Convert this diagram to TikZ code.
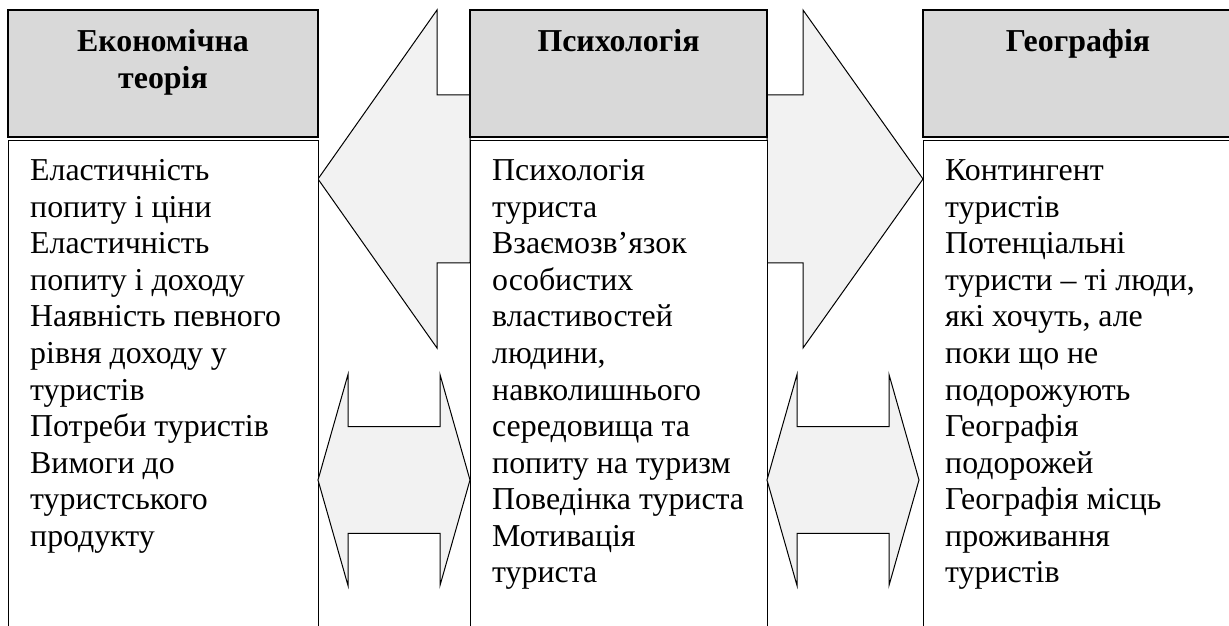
\documentclass[tikz,border=0pt]{standalone}
\usepackage{fontspec}
\setmainfont{Liberation Serif}
\definecolor{hdrgray}{HTML}{D9D9D9}
\definecolor{arrowgray}{HTML}{F2F2F2}
\begin{document}
\begin{tikzpicture}[x=1bp,y=-1bp,
  hdr/.style={draw=black, line width=1.4bp, fill=hdrgray},
  bodybox/.style={draw=black, line width=1bp, fill=white},
  blockarrow/.style={draw=black, line width=1bp, fill=arrowgray, line join=miter},
  txt/.style={inner sep=0pt, font=\fontsize{32}{36.7}\selectfont},
  htxt/.style={inner sep=0pt, font=\fontsize{32}{36.7}\selectfont\bfseries}]
\useasboundingbox (0,0) rectangle (1229,626);
\clip (0,0) rectangle (1229,626);

% top block arrows
\draw[blockarrow] (318,179) -- (437,10) -- (437,95) -- (470,95) -- (470,263) -- (437,263) -- (437,348) -- cycle;
\draw[blockarrow] (923,179) -- (803,10) -- (803,95) -- (767,95) -- (767,263) -- (803,263) -- (803,348) -- cycle;

% header boxes
\draw[hdr] (8,10) rectangle (318,137);
\draw[hdr] (470,10) rectangle (767,137);
\draw[hdr] (923,10) rectangle (1233,137);

% body boxes
\draw[bodybox] (8,141) rectangle (318,660);
\draw[bodybox] (470,141) rectangle (767,660);
\draw[bodybox] (923,141) rectangle (1233,660);

% double arrows
\draw[blockarrow] (318,480) -- (348,374.5) -- (348,426.7) -- (440,426.7) -- (440,374.5) -- (470,480) -- (440,585.5) -- (440,533.3) -- (348,533.3) -- (348,585.5) -- cycle;
\draw[blockarrow] (767,480) -- (797,374.5) -- (797,426.7) -- (889,426.7) -- (889,374.5) -- (919,480) -- (889,585.5) -- (889,533.3) -- (797,533.3) -- (797,585.5) -- cycle;

% headers
\node[htxt, anchor=base] (econ) at (163,51.7) {\begin{tabular}[t]{@{}c@{}}Економічна\\теорія\end{tabular}};
\node[htxt, anchor=base] (psych) at (618.5,51.7) {\begin{tabular}[t]{@{}c@{}}Психологія\end{tabular}};
\node[htxt, anchor=base] (geo) at (1078,51.7) {\begin{tabular}[t]{@{}c@{}}Географія\end{tabular}};

% body texts
\node[txt, anchor=base west] (econtext) at (30,180.7) {\begin{tabular}[t]{@{}l@{}}Еластичність\\попиту і ціни\\Еластичність\\попиту і доходу\\Наявність певного\\рівня доходу у\\туристів\\Потреби туристів\\Вимоги до\\туристського\\продукту\end{tabular}};
\node[txt, anchor=base west] (psychtext) at (492,180.7) {\begin{tabular}[t]{@{}l@{}}Психологія\\туриста\\Взаємозв’язок\\особистих\\властивостей\\людини,\\навколишнього\\середовища та\\попиту на туризм\\Поведінка туриста\\Мотивація\\туриста\end{tabular}};
\node[txt, anchor=base west] (geotext) at (945,180.7) {\begin{tabular}[t]{@{}l@{}}Контингент\\туристів\\Потенціальні\\туристи – ті люди,\\які хочуть, але\\поки що не\\подорожують\\Географія\\подорожей\\Географія місць\\проживання\\туристів\end{tabular}};
\end{tikzpicture}
\end{document}
